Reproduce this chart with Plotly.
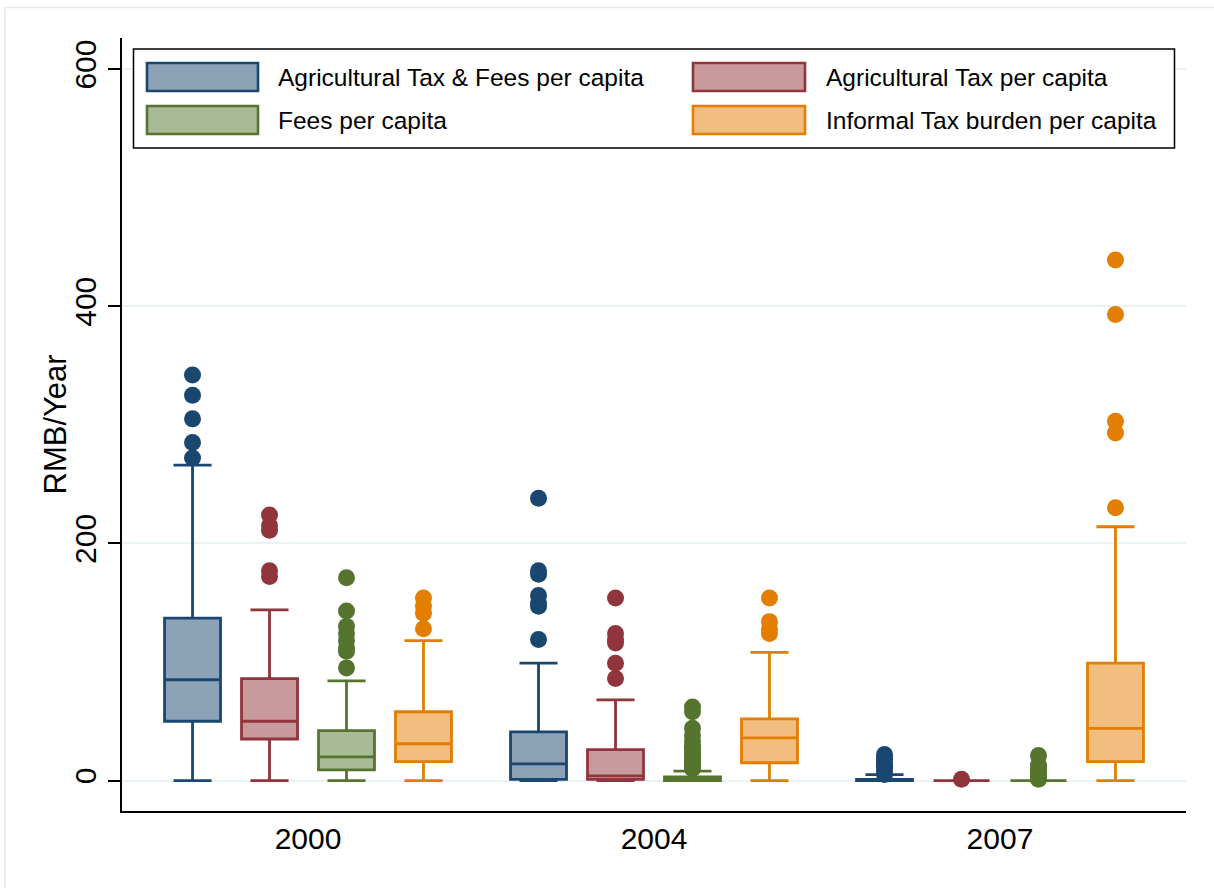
import plotly.graph_objects as go

# Survey years (x categories)
years = ["2000", "2004", "2007"]

# Series names, in plotting order
series = [
    "Agricultural Tax & Fees per capita",
    "Agricultural Tax per capita",
    "Fees per capita",
    "Informal Tax burden per capita",
]

# Box statistics per series, one value per year (RMB/Year)
taxfee_lf = [0, 0, 0]
taxfee_q1 = [50, 1, 0]
taxfee_med = [85, 14, 0]
taxfee_q3 = [137, 41, 1]
taxfee_uf = [266, 99, 5]
taxfee_out = [
    [272, 285, 305, 325, 342],
    [119, 147, 150, 156, 174, 177, 238],
    [5, 8, 11, 13, 15, 18, 20, 22],
]

tax_lf = [0, 0, 0]
tax_q1 = [35, 1, 0]
tax_med = [50, 4, 0]
tax_q3 = [86, 26, 0]
tax_uf = [144, 68, 0]
tax_out = [
    [172, 177, 211, 215, 224],
    [86, 99, 116, 119, 124, 154],
    [1],
]

fee_lf = [0, 0, 0]
fee_q1 = [9, 0, 0]
fee_med = [20, 1, 0]
fee_q3 = [42, 3, 0]
fee_uf = [84, 8, 0]
fee_out = [
    [95, 109, 112, 118, 124, 130, 143, 171],
    [10, 12, 15, 17, 19, 22, 24, 27, 29, 33, 38, 44, 58, 62],
    [1, 3, 5, 7, 9, 11, 13, 21],
]

inf_lf = [0, 0, 0]
inf_q1 = [16, 15, 16]
inf_med = [31, 36, 44]
inf_q3 = [58, 52, 99]
inf_uf = [118, 108, 214]
inf_out = [
    [128, 141, 147, 154],
    [124, 128, 134, 154],
    [230, 293, 303, 393, 439],
]

y_ticks = [0, 200, 400, 600]

stats = [
    (taxfee_lf, taxfee_q1, taxfee_med, taxfee_q3, taxfee_uf, taxfee_out),
    (tax_lf, tax_q1, tax_med, tax_q3, tax_uf, tax_out),
    (fee_lf, fee_q1, fee_med, fee_q3, fee_uf, fee_out),
    (inf_lf, inf_q1, inf_med, inf_q3, inf_uf, inf_out),
]

# Stata s2color-style palette: outline colour and 50% tint fill
line_colors = ["#1a476f", "#90353b", "#55752f", "#e37e00"]
fill_colors = ["#8ca3b7", "#c89a9d", "#aaba97", "#f1be7f"]

FONT = "Liberation Sans, Arial, Helvetica, sans-serif"
W, H = 1214, 888
ML, MR, MT, MB = 122, 28, 38, 77
PW, PH = W - ML - MR, H - MT - MB


def px_x(px):
    return (px - ML) / PW


def px_y(py):
    return (H - MB - py) / PH


fig = go.Figure()

for name, (lf, q1, med, q3, uf, out), lc, fc in zip(series, stats, line_colors, fill_colors):
    fig.add_trace(go.Box(
        name=name,
        x=years,
        y=out,
        lowerfence=lf,
        q1=q1,
        median=med,
        q3=q3,
        upperfence=uf,
        boxpoints="all",
        pointpos=0,
        jitter=0,
        whiskerwidth=0.68,
        line=dict(color=lc, width=2.8),
        fillcolor=fc,
        marker=dict(color=lc, size=17, line=dict(width=0)),
        showlegend=False,
        hoverinfo="skip",
    ))

shapes = []
annotations = []

# Outer graph-region frame
shapes.append(dict(
    type="rect", xref="paper", yref="paper",
    x0=px_x(5), x1=px_x(W + 20), y0=px_y(H + 20), y1=px_y(7.5),
    line=dict(color="#e3ebee", width=1.5), fillcolor="rgba(0,0,0,0)", layer="below",
))

# Legend frame
shapes.append(dict(
    type="rect", xref="paper", yref="paper",
    x0=px_x(133.5), x1=px_x(1174.5), y0=px_y(148), y1=px_y(49),
    line=dict(color="black", width=1.5), fillcolor="white", layer="above",
))

legend_cols = [(147, 258, 276), (693, 805, 824)]
legend_rows = [(63, 91, 77.5), (106, 134, 120.5)]
for i, (name, lc, fc) in enumerate(zip(series, line_colors, fill_colors)):
    row, col = divmod(i, 2)
    sx0, sx1, tx = legend_cols[col]
    sy0, sy1, ty = legend_rows[row]
    shapes.append(dict(
        type="rect", xref="paper", yref="paper",
        x0=px_x(sx0), x1=px_x(sx1), y0=px_y(sy1), y1=px_y(sy0),
        line=dict(color=lc, width=2.6), fillcolor=fc, layer="above",
    ))
    annotations.append(dict(
        text=name, xref="paper", yref="paper", x=px_x(tx), y=px_y(ty),
        xanchor="left", yanchor="middle", showarrow=False,
        font=dict(family=FONT, size=24.5, color="black"),
    ))

# Y-axis title
annotations.append(dict(
    text="RMB/Year", xref="paper", yref="paper", x=px_x(55), y=0.5,
    xanchor="center", yanchor="middle", textangle=-90, showarrow=False,
    font=dict(family=FONT, size=31, color="black"),
))

fig.update_layout(
    width=W, height=H,
    margin=dict(l=ML, r=MR, t=MT, b=MB, pad=0),
    paper_bgcolor="white", plot_bgcolor="white",
    boxmode="group", boxgap=0.11, boxgroupgap=0.273,
    font=dict(family=FONT, color="black"),
    shapes=shapes, annotations=annotations,
    showlegend=False,
)

fig.update_xaxes(
    type="category", range=[-0.5376, 2.5376],
    showline=True, linecolor="black", linewidth=1.5,
    ticks="", showgrid=False, zeroline=False,
    tickfont=dict(family=FONT, size=30, color="black"),
)

fig.update_yaxes(
    range=[-25.7, 626.2], tickvals=y_ticks,
    showline=True, linecolor="black", linewidth=1.5,
    ticks="outside", ticklen=12, tickwidth=1.5, tickcolor="black",
    tickangle=-90,
    showgrid=True, gridcolor="#eaf2f3", gridwidth=2, zeroline=False,
    tickfont=dict(family=FONT, size=30, color="black"),
)

fig.write_html("out.html")
